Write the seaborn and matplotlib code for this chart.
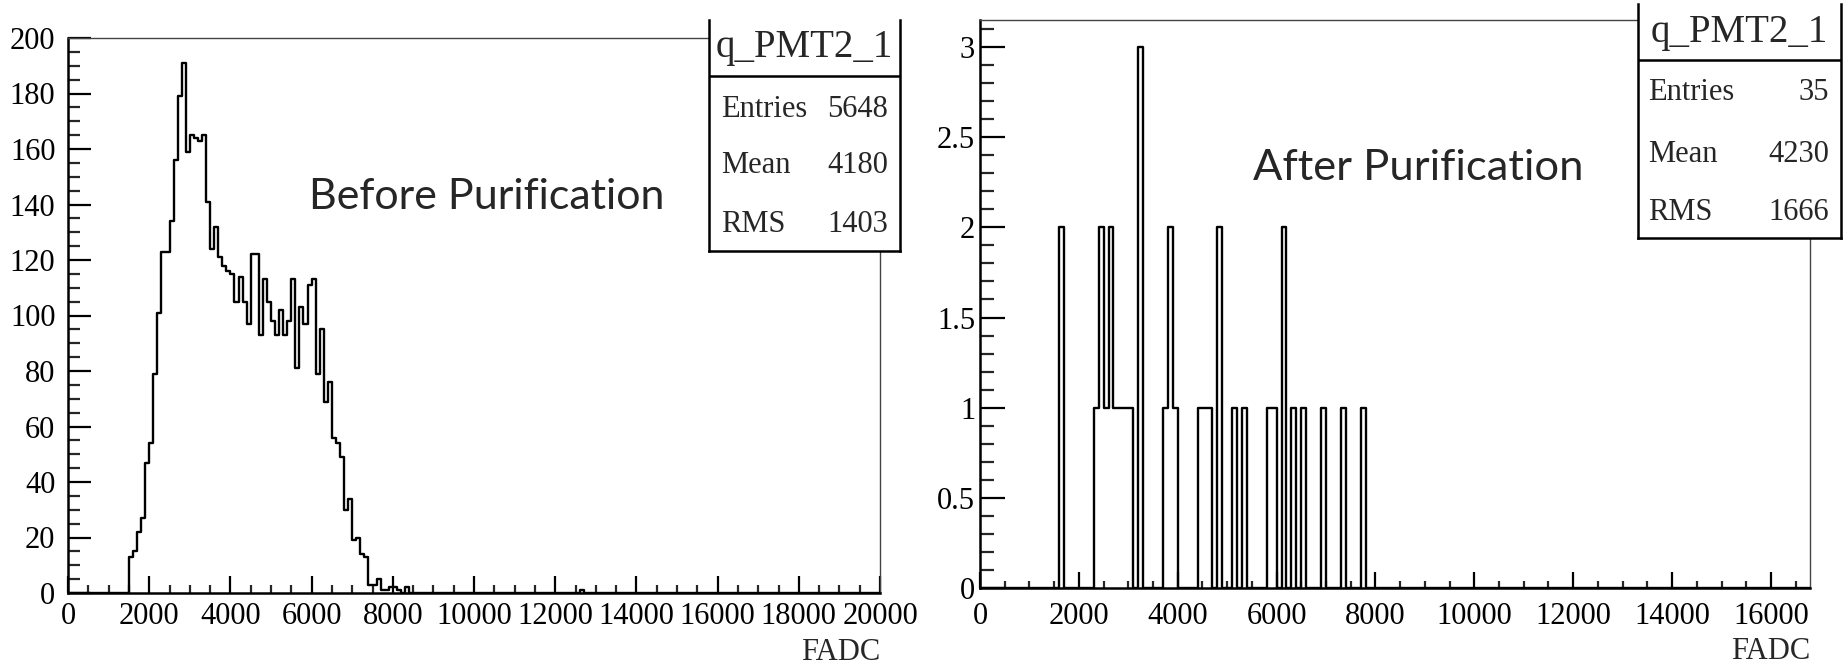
import numpy as np
import pandas as pd
import matplotlib
matplotlib.use("Agg")
import matplotlib.pyplot as plt
from matplotlib.ticker import MultipleLocator, FuncFormatter
import seaborn as sns

# ---------------------------------------------------------------------------
# Data: FADC charge spectra of q_PMT2_1, 100-count wide bins
# ---------------------------------------------------------------------------
bin_width = 100

# Before purification: consecutive bins starting at FADC = 1500
before_start = 1500
before_counts = [13, 15, 22, 27, 47, 54, 79, 101, 123, 123,
                 134, 156, 179, 191, 159, 165, 164, 163, 165, 141,
                 124, 132, 121, 118, 116, 115, 105, 114, 105, 97,
                 122, 122, 93, 113, 105, 98, 93, 102, 93, 98,
                 113, 81, 103, 97, 111, 113, 79, 95, 69, 76,
                 56, 54, 49, 30, 34, 19, 20, 14, 13, 3,
                 3, 5, 1, 1, 2, 2, 1, 0, 2]
before_extra_bins = [12600]          # lower edge of isolated bins
before_extra_counts = [1]
before_range = (0, 20000)
before_stats = [("Entries", "5648"), ("Mean", "4180"), ("RMS", "1403")]

# After purification: lower edge of every non-empty bin and its content
after_bins = [1600, 2300, 2400, 2500, 2600, 2700, 2800, 2900, 3000, 3200,
              3700, 3800, 3900, 4400, 4500, 4600, 4800, 5100, 5300, 5800,
              5900, 6100, 6300, 6500, 6900, 7300, 7700]
after_counts = [2, 1, 2, 1, 2, 1, 1, 1, 1, 3,
                1, 2, 1, 1, 1, 1, 2, 1, 1, 1,
                1, 2, 1, 1, 1, 1, 1]
after_range = (0, 16800)
after_stats = [("Entries", "35"), ("Mean", "4230"), ("RMS", "1666")]

hist_name = "q_PMT2_1"
x_label = "FADC"
before_text = "Before Purification"
after_text = "After Purification"

# ---------------------------------------------------------------------------
sns.set_style("ticks")
plt.rcParams["font.family"] = ["Liberation Serif", "DejaVu Serif"]
plt.rcParams["axes.linewidth"] = 1.6

fig = plt.figure(figsize=(18.49, 6.65), dpi=100)
fig.patch.set_facecolor("white")

ax_l = fig.add_axes([68 / 1849, 72 / 665, 812 / 1849, 555 / 665])
ax_r = fig.add_axes([980 / 1849, 77 / 665, 830.5 / 1849, 568 / 665])

before_x = np.concatenate([
    before_start + bin_width * (np.arange(len(before_counts)) + 0.5),
    np.asarray(before_extra_bins) + bin_width / 2])
before_w = np.concatenate([before_counts, before_extra_counts])
df_before = pd.DataFrame({"fadc": before_x, "n": before_w})

df_after = pd.DataFrame({"fadc": np.asarray(after_bins) + bin_width / 2,
                         "n": after_counts})

hist_kw = dict(element="step", fill=False, color="black", linewidth=1.7,
               binwidth=bin_width)
sns.histplot(data=df_before, x="fadc", weights="n", binrange=before_range,
             ax=ax_l, **hist_kw)
sns.histplot(data=df_after, x="fadc", weights="n", binrange=after_range,
             ax=ax_r, **hist_kw)

ax_l.set_xlim(*before_range)
ax_l.set_ylim(0, 200)
ax_r.set_xlim(*after_range)
ax_r.set_ylim(0, 3.15)


def style_axes(ax, ymajor, yminor, ylen, xlen, ypad, xpad, labelpad):
    ax.set_facecolor("white")
    ax.xaxis.set_major_locator(MultipleLocator(2000))
    ax.xaxis.set_minor_locator(MultipleLocator(500))
    ax.yaxis.set_major_locator(MultipleLocator(ymajor))
    ax.yaxis.set_minor_locator(MultipleLocator(yminor))
    ax.yaxis.set_major_formatter(FuncFormatter(lambda v, p: f"{v:g}"))
    ax.xaxis.set_major_formatter(FuncFormatter(lambda v, p: f"{v:g}"))
    ax.tick_params(axis="y", which="major", direction="in", length=ylen[0],
                   width=1.6, labelsize=22, pad=ypad, colors="black")
    ax.tick_params(axis="y", which="minor", direction="in", length=ylen[1],
                   width=1.6)
    ax.tick_params(axis="x", which="major", direction="in", length=xlen[0],
                   width=1.6, labelsize=22, pad=xpad, colors="black")
    ax.tick_params(axis="x", which="minor", direction="in", length=xlen[1],
                   width=1.6)
    for s in ("left", "bottom"):
        ax.spines[s].set_linewidth(1.8)
        ax.spines[s].set_color("black")
    for s in ("top", "right"):
        ax.spines[s].set_linewidth(1.0)
        ax.spines[s].set_color("#444444")
    ax.set_ylabel("")
    ax.set_xlabel(x_label, loc="right", fontsize=22, labelpad=labelpad)


style_axes(ax_l, 20, 5, (16.5, 8.6), (12, 6), 9, 6.7, 5)
style_axes(ax_r, 0.5, 0.1, (18, 10), (11.5, 5), 3.5, 10, 4.5)

ax_l.text(0.297, 0.692, before_text, transform=ax_l.transAxes,
          family=["Lato", "DejaVu Sans"], fontsize=31, ha="left",
          va="baseline")
ax_r.text(0.329, 0.718, after_text, transform=ax_r.transAxes,
          family=["Lato", "DejaVu Sans"], fontsize=31.3, ha="left",
          va="baseline")


def stats_box(rect, sep, title_y):
    bax = fig.add_axes(rect, zorder=5)
    bax.set_xlim(0, 1)
    bax.set_ylim(0, 1)
    bax.set_facecolor("white")
    bax.set_xticks([])
    bax.set_yticks([])
    bax.spines["top"].set_visible(False)
    for s in ("left", "right", "bottom"):
        bax.spines[s].set_linewidth(1.8)
        bax.spines[s].set_color("black")
    bax.axhline(sep, color="black", linewidth=1.8)
    bax.text(0.5, title_y, hist_name, ha="center", va="baseline", fontsize=28)
    return bax


box_l = stats_box([709 / 1849, (665 - 251) / 665, 191 / 1849, 231 / 665],
                  0.7576, 0.84)
for (lab, val), y in zip(before_stats, [0.58, 0.338, 0.082]):
    box_l.text(0.063, y, lab, ha="left", va="baseline", fontsize=22)
    box_l.text(0.937, y, val, ha="right", va="baseline", fontsize=22)

box_r = stats_box([1638 / 1849, (665 - 238) / 665, 203 / 1849, 234 / 665],
                  0.761, 0.838)
for (lab, val), y in zip(after_stats, [0.59, 0.325, 0.077]):
    box_r.text(0.05, y, lab, ha="left", va="baseline", fontsize=22)
    box_r.text(0.94, y, val, ha="right", va="baseline", fontsize=22)

fig.savefig("out.png", dpi=100, facecolor="white")
